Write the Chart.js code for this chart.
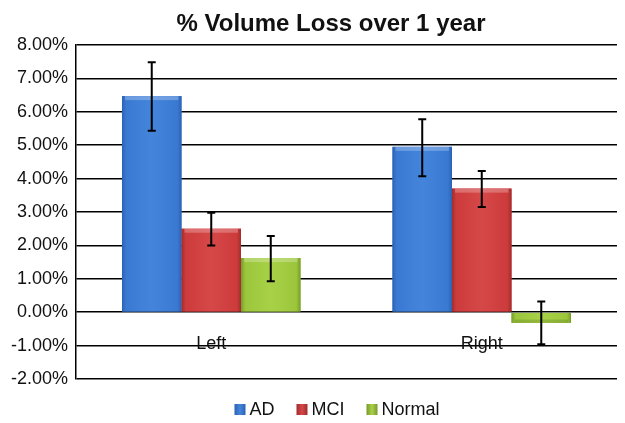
<!DOCTYPE html>
<html>
<head>
<meta charset="utf-8">
<script src="https://cdn.jsdelivr.net/npm/chart.js@4.4.1/dist/chart.umd.min.js"></script>
<style>
  html, body { margin: 0; padding: 0; background: #fff; }
  #wrap { width: 625px; height: 423px; }
</style>
</head>
<body>
<div id="wrap"><canvas id="volChart" width="625" height="423"></canvas></div>
<script>
// data (percent)
const categories = ['Left', 'Right'];
const seriesNames = ['AD', 'MCI', 'Normal'];
const adValues = [6.47, 4.95];
const mciValues = [2.50, 3.70];
const normalValues = [1.62, -0.32];
// error bar ends
const adLow = [5.43, 4.07];
const adHigh = [7.48, 5.78];
const mciLow = [2.00, 3.15];
const mciHigh = [2.98, 4.23];
const normalLow = [0.93, -0.96];
const normalHigh = [2.28, 0.32];
const yTicks = [8, 7, 6, 5, 4, 3, 2, 1, 0, -1, -2];
const titleText = '% Volume Loss over 1 year';

const FONT = "'Liberation Sans', Arial, sans-serif";

// base / edge colours for the bevelled bars
const barColors = [
    { base: '#3a79d2', light: '#4485db', dark: '#2b62b2' },
    { base: '#cd3b3b', light: '#d64848', dark: '#a02d2d' },
    { base: '#9bc63b', light: '#a8d148', dark: '#789a2c' }
];

// Bevel look: paint a gradient over each bar
const bevelPlugin = {
    id: 'bevel',
    afterDatasetsDraw(chart) {
        const ctx = chart.ctx;
        ctx.save();
        chart.data.datasets.forEach((ds, di) => {
            const meta = chart.getDatasetMeta(di);
            const c = barColors[di];
            meta.data.forEach(bar => {
                const p = bar.getProps(['x', 'y', 'base', 'width']);
                const left = p.x - p.width / 2;
                const top = Math.min(p.y, p.base);
                const h = Math.abs(p.base - p.y);
                const g = ctx.createLinearGradient(left, 0, left + p.width, 0);
                g.addColorStop(0, c.dark);
                g.addColorStop(0.07, c.base);
                g.addColorStop(0.5, c.light);
                g.addColorStop(0.93, c.base);
                g.addColorStop(1, c.dark);
                ctx.fillStyle = g;
                ctx.fillRect(left, top, p.width, h);
                // light strip along the top edge
                const cap = Math.min(4, h / 3);
                if (p.y <= p.base) {
                    ctx.fillStyle = 'rgba(255,255,255,0.25)';
                    ctx.fillRect(left + 3, top, p.width - 6, cap);
                } else {
                    ctx.fillStyle = 'rgba(0,0,0,0.12)';
                    ctx.fillRect(left + 3, top + h - cap, p.width - 6, cap);
                }
            });
        });
        ctx.restore();
    }
};

// Error bars with caps
const errorBarPlugin = {
    id: 'errorBars',
    afterDatasetsDraw(chart) {
        const ctx = chart.ctx;
        const y = chart.scales.y;
        ctx.save();
        ctx.strokeStyle = '#000';
        ctx.lineWidth = 2;
        chart.data.datasets.forEach((ds, di) => {
            const meta = chart.getDatasetMeta(di);
            meta.data.forEach((bar, i) => {
                const top = y.getPixelForValue(ds.high[i]);
                const bottom = y.getPixelForValue(ds.low[i]);
                ctx.beginPath();
                ctx.moveTo(bar.x, top);
                ctx.lineTo(bar.x, bottom);
                ctx.moveTo(bar.x - 4, top);
                ctx.lineTo(bar.x + 4, top);
                ctx.moveTo(bar.x - 4, bottom);
                ctx.lineTo(bar.x + 4, bottom);
                ctx.stroke();
            });
        });
        ctx.restore();
    }
};

// Category labels on the -1% line, title and legend
const textPlugin = {
    id: 'texts',
    afterDraw(chart) {
        const ctx = chart.ctx;
        const x = chart.scales.x;
        const y = chart.scales.y;
        ctx.save();
        ctx.fillStyle = '#111';
        ctx.textBaseline = 'alphabetic';

        ctx.font = '18px ' + FONT;
        ctx.textAlign = 'center';
        categories.forEach((cat, i) => {
            ctx.fillText(cat, x.getPixelForValue(i), y.getPixelForValue(-1) + 3);
        });

        ctx.font = 'bold 24px ' + FONT;
        ctx.fillText(titleText, 331, 31);

        // legend
        ctx.font = '18px ' + FONT;
        ctx.textAlign = 'left';
        const box = 11, gapText = 4, gapItem = 22;
        const widths = seriesNames.map(n => ctx.measureText(n).width);
        let total = 0;
        widths.forEach((w, i) => { total += box + gapText + w + (i < widths.length - 1 ? gapItem : 0); });
        let cx = 337 - total / 2;
        seriesNames.forEach((name, i) => {
            const c = barColors[i];
            const g = ctx.createLinearGradient(cx, 0, cx + box, 0);
            g.addColorStop(0, c.dark);
            g.addColorStop(0.5, c.light);
            g.addColorStop(1, c.dark);
            ctx.fillStyle = g;
            ctx.fillRect(cx, 404, box, box);
            ctx.fillStyle = '#111';
            ctx.fillText(name, cx + box + gapText, 415);
            cx += box + gapText + widths[i] + gapItem;
        });
        ctx.restore();
    }
};

const ctx = document.getElementById('volChart').getContext('2d');
const volChart = new Chart(ctx, {
    type: 'bar',
    data: {
        labels: categories,
        datasets: [
            { label: seriesNames[0], data: adValues, low: adLow, high: adHigh, backgroundColor: barColors[0].base },
            { label: seriesNames[1], data: mciValues, low: mciLow, high: mciHigh, backgroundColor: barColors[1].base },
            { label: seriesNames[2], data: normalValues, low: normalLow, high: normalHigh, backgroundColor: barColors[2].base }
        ]
    },
    options: {
        responsive: false,
        animation: false,
        layout: { padding: { left: 0, right: 8, top: 45, bottom: 44 } },
        categoryPercentage: 0.66,
        barPercentage: 1.0,
        plugins: {
            title: { display: false },
            legend: { display: false },
            tooltip: { enabled: false }
        },
        scales: {
            x: { display: false },
            y: {
                min: -2,
                max: 8,
                afterFit(scale) { scale.width = 76; },
                afterBuildTicks(scale) { scale.ticks = yTicks.map(v => ({ value: v })); },
                grid: { color: '#000', lineWidth: 1.5, drawTicks: false },
                border: { display: true, color: '#000', width: 1.5 },
                ticks: {
                    color: '#111',
                    padding: 8,
                    font: { family: FONT, size: 18 },
                    callback: v => v.toFixed(2) + '%'
                }
            }
        }
    },
    plugins: [bevelPlugin, errorBarPlugin, textPlugin]
});
</script>
</body>
</html>
